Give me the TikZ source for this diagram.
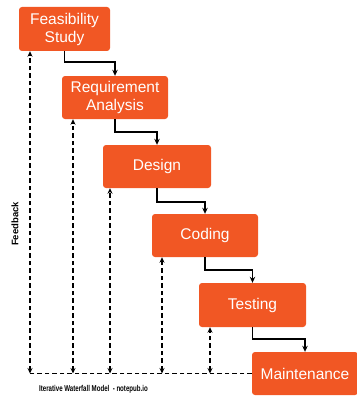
\documentclass[tikz,border=0pt]{standalone}
\usepackage{fontspec}
\setmainfont{Liberation Sans}
\usetikzlibrary{arrows.meta}
\definecolor{phase}{RGB}{241,87,36}
\begin{document}
\begin{tikzpicture}[x=1pt,y=-1pt,
  phasebox/.style={draw=none,fill=phase,rounded corners=3pt,text=white,
    align=center,inner sep=0pt,font=\fontsize{15.5}{18}\selectfont},
  flow/.style={draw=black,line width=1.6pt,-{Stealth[length=6pt,width=5.5pt]}},
  fb/.style={draw=black,line width=1.6pt,dash pattern=on 4.5pt off 3pt,
    {Stealth[length=5.5pt,width=5pt]}-{Stealth[length=5.5pt,width=5pt]}},
  fbline/.style={draw=black,line width=1.6pt,dash pattern=on 4.5pt off 3pt}]
\useasboundingbox (0,0) rectangle (356,396);

% phases of the waterfall
\node[phasebox,minimum width=91pt,minimum height=44pt] (fs) at (64.5,29) {Feasibility\\Study};
\node[phasebox,minimum width=106pt,minimum height=43pt] (ra) at (115,97.5) {Requirement\\Analysis};
\node[phasebox,minimum width=108pt,minimum height=43pt] (de) at (157,166.5) {Design};
\node[phasebox,minimum width=106pt,minimum height=43pt] (co) at (205,235.5) {Coding};
\node[phasebox,minimum width=107pt,minimum height=44pt] (te) at (252.5,305) {Testing};
\node[phasebox,minimum width=106pt,minimum height=43pt] (ma) at (305,373.5) {Maintenance};

% forward flow between phases
\draw[flow] (fs.south) -- ++(0,11) -| (ra.north);
\draw[flow] (ra.south) -- ++(0,13) -| (de.north);
\draw[flow] (de.south) -- ++(0,14) -| (co.north);
\draw[flow] (co.south) -- ++(0,13) -| (te.north);
\draw[flow] (te.south) -- ++(0,12) -| (ma.north);

% feedback paths
\coordinate (b1) at (30,373.5);
\coordinate (b2) at (73,373.5);
\coordinate (b3) at (110,373.5);
\coordinate (b4) at (162,373.5);
\coordinate (b5) at (210,373.5);
\draw[fbline] (ma.west) -- (b1);
\draw[fb] (b1) -- (b1 |- fs.south);
\draw[fb] (b2) -- (b2 |- ra.south);
\draw[fb] (b3) -- (b3 |- de.south);
\draw[fb] (b4) -- (b4 |- co.south);
\draw[fb] (b5) -- (b5 |- te.south);

% labels
\node[rotate=90,font=\bfseries\fontsize{9.5}{11}\selectfont,inner sep=0pt] (fbl) at (15,224) {Feedback};
\node[font=\bfseries\fontsize{8.5}{10}\selectfont,inner sep=0pt,anchor=west] (cap) at (39,389.5)
  {\scalebox{0.72}[1]{Iterative Waterfall Model\ \ - notepub.io}};
\end{tikzpicture}
\end{document}
